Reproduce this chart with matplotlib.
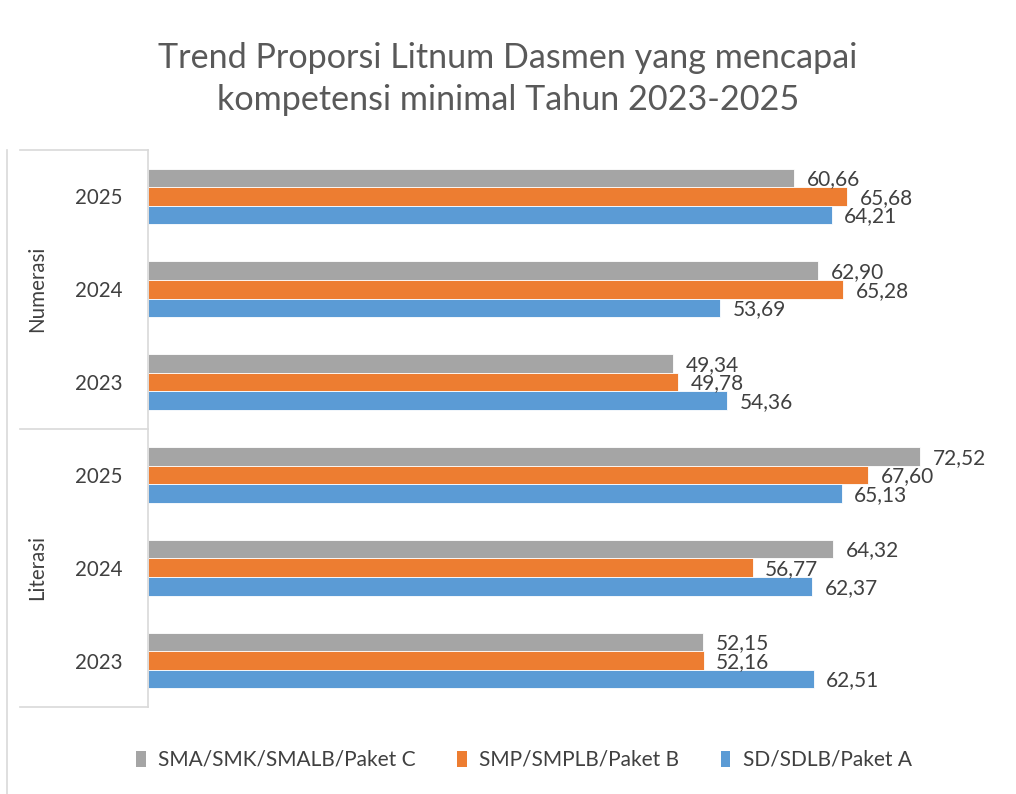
import matplotlib.pyplot as plt
import matplotlib.transforms as mtransforms
from matplotlib.patches import Patch
import numpy as np

plt.rcParams['font.family'] = ['Lato', 'DejaVu Sans']

# Data (top to bottom as shown in the chart)
groups = ['Numerasi', 'Literasi']
years = ['2025', '2024', '2023']
sma = [60.66, 62.90, 49.34, 72.52, 64.32, 52.15]
smp = [65.68, 65.28, 49.78, 67.60, 56.77, 52.16]
sd = [64.21, 53.69, 54.36, 65.13, 62.37, 62.51]
series_names = ['SMA/SMK/SMALB/Paket C', 'SMP/SMPLB/Paket B', 'SD/SDLB/Paket A']
colors = ['#A5A5A5', '#ED7D31', '#5B9BD5']

fig = plt.figure(figsize=(10.16, 7.94), dpi=100)
ax = fig.add_axes([148 / 1016, 1 - 707 / 794, 852 / 1016, 557 / 794])

y = np.arange(len(sma))
h = 0.2
txt_color = '#404040'
for vals, off, col in zip([sma, smp, sd], [-h, 0, h], colors):
    bars = ax.barh(y + off, vals, height=h, color=col, edgecolor='white', linewidth=0.6)
    for b, v in zip(bars, vals):
        ax.annotate(f'{v:.2f}'.replace('.', ','), (v, b.get_y() + h / 2),
                    xytext=(9, -1), textcoords='offset points', va='center', ha='left',
                    fontsize=15, color=txt_color)

ax.set_xlim(0, 80)
ax.set_ylim(5.5, -0.5)
ax.set_xticks([])
ax.set_yticks(y)
ax.set_yticklabels(years * 2, fontsize=14.8, color=txt_color)
ax.tick_params(axis='y', length=0, pad=18)
for s in ['top', 'right', 'bottom']:
    ax.spines[s].set_visible(False)
ax.spines['left'].set_color('#D9D9D9')
ax.spines['left'].set_linewidth(1.2)

# Multi-level category axis
trans = mtransforms.blended_transform_factory(ax.transAxes, ax.transData)
x0 = -128 / 852
for yy in [-0.5, 2.5, 5.5]:
    ax.plot([x0, 0], [yy, yy], transform=trans, color='#D9D9D9', lw=1.2, clip_on=False)
for i, g in enumerate(groups):
    ax.text(-111 / 852, 1 + 3 * i, g, transform=trans, rotation=90, ha='center', va='center',
            fontsize=14.8, color=txt_color)

# Outer chart border line on the left
fig.add_artist(plt.Line2D([7 / 1016, 7 / 1016], [0, 1 - 150 / 794], color='#D9D9D9', lw=1.2))

fig.text(0.5, 1 - 79 / 794, 'Trend Proporsi Litnum Dasmen yang mencapai\nkompetensi minimal Tahun 2023-2025',
         ha='center', va='center', fontsize=24.6, color='#595959', linespacing=1.36)

handles = [Patch(facecolor=c, edgecolor='none') for c in colors]
fig.legend(handles, series_names, loc='center', bbox_to_anchor=(524 / 1016, 1 - 760 / 794), ncol=3,
           frameon=False, fontsize=15, handlelength=0.45, handleheight=0.8, handletextpad=0.6,
           columnspacing=2.0, labelcolor=txt_color)

fig.savefig('out.png', dpi=100)
